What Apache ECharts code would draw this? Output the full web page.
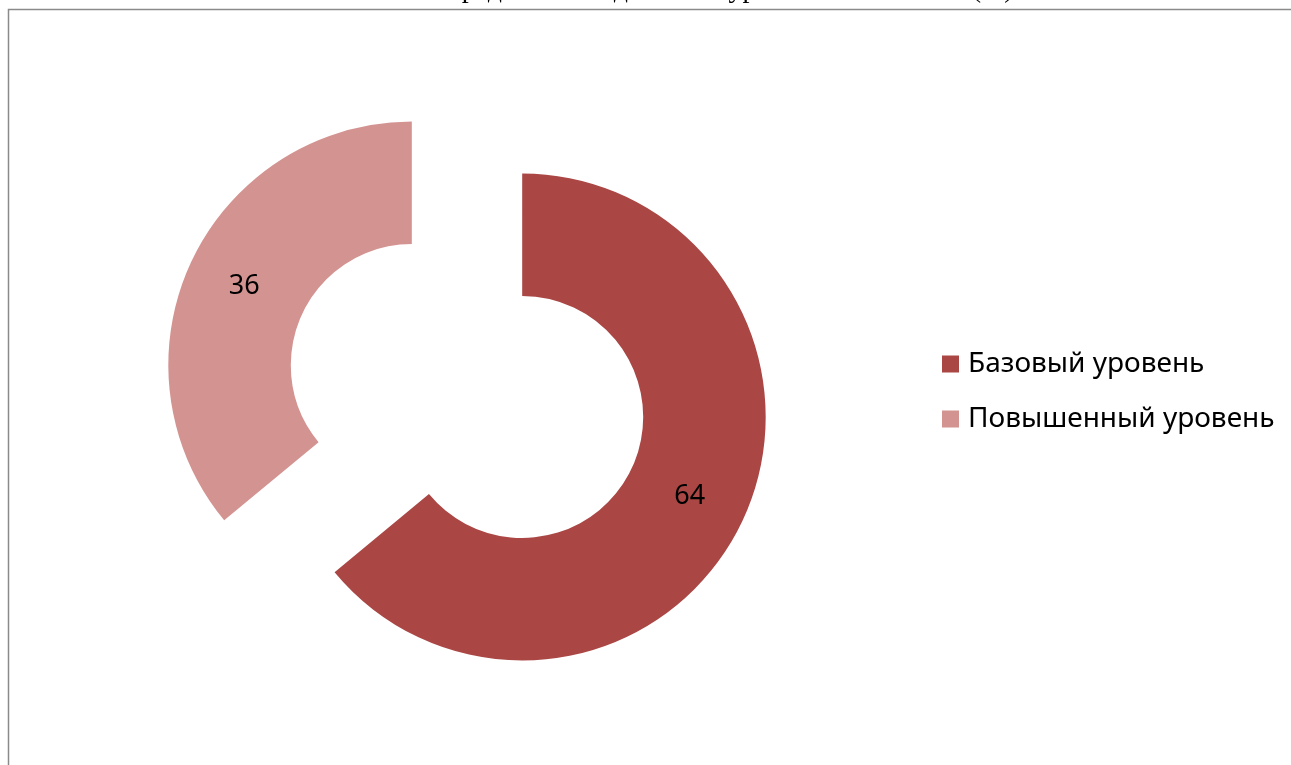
<!DOCTYPE html>
<html>
<head>
<meta charset="utf-8">
<script src="https://cdn.jsdelivr.net/npm/echarts@6/dist/echarts.min.js"></script>
<style>
html,body{margin:0;padding:0;background:#fff;}
#chart{width:1291px;height:765px;}
</style>
</head>
<body>
<div id="chart"></div>
<script>
const titleText = 'Распределение заданий по уровням сложности (%)';
const categories = ['Базовый уровень', 'Повышенный уровень'];
const values = [64, 36];
const colors = ['#AA4644', '#D39391'];

const chart = echarts.init(document.getElementById('chart'));
chart.setOption({
  animation: false,
  backgroundColor: '#ffffff',
  graphic: [
    {
      type: 'rect',
      silent: true,
      shape: { x: 8.5, y: 9.5, width: 1400, height: 900 },
      style: { fill: 'none', stroke: '#8a8a8a', lineWidth: 1.5 }
    },
    {
      type: 'text',
      silent: true,
      x: 710,
      y: 4,
      style: {
        text: titleText,
        fill: '#000',
        font: '28px "Liberation Serif", "DejaVu Serif", serif',
        align: 'center',
        verticalAlign: 'bottom'
      }
    }
  ],
  legend: {
    orient: 'vertical',
    left: 937,
    top: 345,
    itemWidth: 17,
    itemHeight: 17,
    itemGap: 27,
    icon: 'rect',
    selectedMode: false,
    data: categories,
    textStyle: {
      fontFamily: '"Noto Sans", "Open Sans", sans-serif',
      fontSize: 28,
      color: '#000',
      padding: [0, 0, 0, 4]
    }
  },
  series: [{
    type: 'pie',
    center: [467, 391],
    radius: [121, 243.5],
    startAngle: 90,
    clockwise: true,
    selectedMode: 'multiple',
    selectedOffset: 61,
    avoidLabelOverlap: false,
    emphasis: { disabled: true },
    label: {
      show: true,
      position: 'inside',
      formatter: '{c}',
      color: '#000',
      fontFamily: '"Noto Sans", "Open Sans", sans-serif',
      fontSize: 27
    },
    labelLine: { show: false },
    data: categories.map((name, i) => ({
      name: name,
      value: values[i],
      selected: true,
      itemStyle: { color: colors[i] }
    }))
  }]
});
</script>
</body>
</html>
